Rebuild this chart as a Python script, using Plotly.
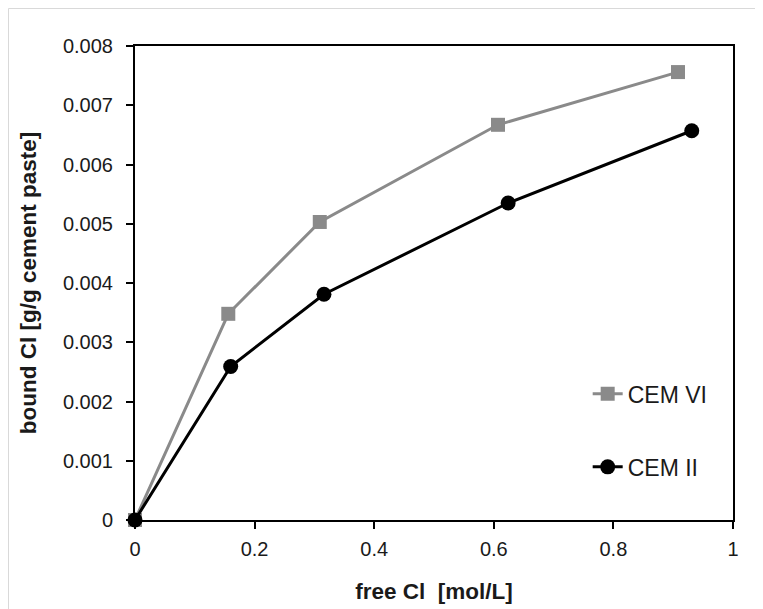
import plotly.graph_objects as go

free_cl_vi = [0.0, 0.156, 0.309, 0.607, 0.908]
bound_cl_vi = [0.0, 0.00348, 0.00503, 0.00667, 0.00756]
free_cl_ii = [0.0, 0.160, 0.316, 0.624, 0.931]
bound_cl_ii = [0.0, 0.00259, 0.00381, 0.00535, 0.00657]
x_ticks = [0, 0.2, 0.4, 0.6, 0.8, 1]
y_ticks = [0, 0.001, 0.002, 0.003, 0.004, 0.005, 0.006, 0.007, 0.008]

FONT = "Liberation Sans, Arial, sans-serif"
GRAY = "#8a8a8a"
TXT = "#1a1a1a"

# page body has an 8px default margin; size the figure so the plot area
# lands where the reference has it (x: 135..733, y: 46..520)
W, H = 755, 601
L, R, T, B = 127, 30, 38, 89
PW = W - L - R
PH = H - T - B

fig = go.Figure()
fig.add_trace(go.Scatter(
    x=free_cl_vi, y=bound_cl_vi, name="CEM VI", mode="lines+markers",
    line=dict(color=GRAY, width=3),
    marker=dict(symbol="square", size=14, color=GRAY),
    cliponaxis=False, legend="legend",
))
fig.add_trace(go.Scatter(
    x=free_cl_ii, y=bound_cl_ii, name="CEM II", mode="lines+markers",
    line=dict(color="#000000", width=3),
    marker=dict(symbol="circle", size=15, color="#000000"),
    cliponaxis=False, legend="legend2",
))

fig.update_layout(
    width=W, height=H,
    margin=dict(l=L, r=R, t=T, b=B, autoexpand=False),
    paper_bgcolor="white", plot_bgcolor="white",
    font=dict(family=FONT, size=20, color=TXT),
    showlegend=True,
    legend=dict(x=0.757, y=0.266, xanchor="left", yanchor="middle",
                bgcolor="rgba(0,0,0,0)", font=dict(size=23, color=TXT)),
    legend2=dict(x=0.757, y=0.112, xanchor="left", yanchor="middle",
                 bgcolor="rgba(0,0,0,0)", font=dict(size=23, color=TXT)),
    xaxis=dict(
        range=[0, 1], tickvals=x_ticks, ticks="outside", ticklen=7,
        tickwidth=2, tickcolor="#000", showline=True, linecolor="#000",
        linewidth=2, mirror=True, showgrid=False, zeroline=False,
        automargin=False,
        tickfont=dict(size=20, color=TXT), ticklabelstandoff=3,
        title=dict(text="<b>free Cl  [mol/L]</b>", font=dict(size=22.5, color=TXT), standoff=24),
    ),
    yaxis=dict(
        range=[0, 0.008], tickvals=y_ticks, ticks="outside", ticklen=7,
        tickwidth=2, tickcolor="#000", showline=True, linecolor="#000",
        linewidth=2, mirror=True, showgrid=False, zeroline=False,
        automargin=False, tickformat="~g",
        tickfont=dict(size=20, color=TXT), ticklabelstandoff=9,
        title=dict(text="<b>bound Cl [g/g cement paste]</b>", font=dict(size=22.5, color=TXT), standoff=20),
    ),
    shapes=[
        dict(type="line", xref="paper", yref="paper", x0=-(L - 0.5) / PW, x1=1 + R / PW,
             y0=1 + (T - 0.5) / PH, y1=1 + (T - 0.5) / PH, line=dict(color="#d9d9d9", width=1)),
        dict(type="line", xref="paper", yref="paper", x0=-(L - 0.5) / PW, x1=-(L - 0.5) / PW,
             y0=1 + (T - 0.5) / PH, y1=-B / PH, line=dict(color="#d9d9d9", width=1)),
    ],
)

fig.write_html("out.html")
